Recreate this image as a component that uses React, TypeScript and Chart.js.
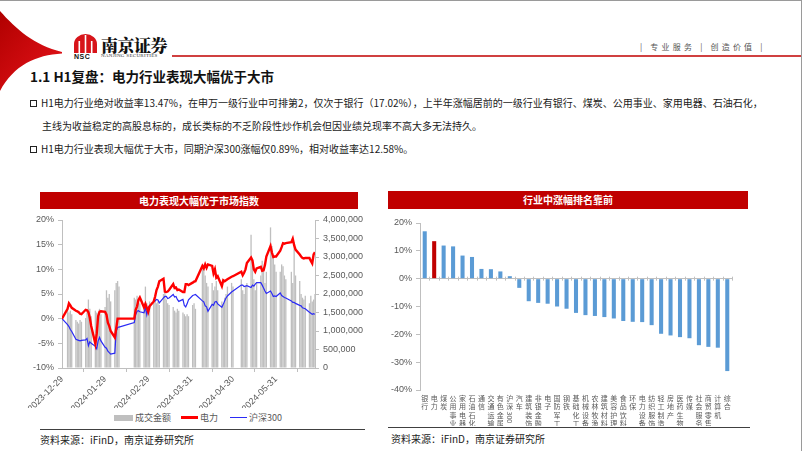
import React, { useEffect, useRef } from 'react';
import { Chart, registerables } from 'chart.js';

Chart.register(...registerables);

const FONT = "'Liberation Sans', 'Noto Sans CJK SC', sans-serif";
const CJK = "'Noto Sans CJK SC', 'Liberation Sans', sans-serif";

// ---------- left chart data ----------
const startDate = '2023-12-29';
const holidays = [
  '2024-01-01', '2024-02-09', '2024-02-12', '2024-02-13', '2024-02-14', '2024-02-15', '2024-02-16',
  '2024-04-04', '2024-04-05', '2024-05-01', '2024-05-02', '2024-05-03', '2024-06-10',
];

function buildTradeDates(): string[] {
  const res = [startDate];
  let t = Date.UTC(2024, 0, 1);
  const end = Date.UTC(2024, 5, 28);
  while (t <= end) {
    const d = new Date(t);
    const dow = d.getUTCDay();
    const s = d.toISOString().slice(0, 10);
    if (dow !== 0 && dow !== 6 && !holidays.includes(s)) res.push(s);
    t += 86400000;
  }
  return res;
}
const tradeDates = buildTradeDates();

// 电力 cumulative return (%)
const powerReturn = [
  0, 2.0, 3.1, 2.7, 2.2, 1.6, 1.5, 1.3, 1.0, 0.9,
  1.8, 1.7, 1.3, 0.2, -1.5, -5.1, -3.0, 0.5, 1.4, 1.5,
  1.4, 0.8, -0.8, -1.5, -2.5, -3.8, -2.0, 0, 0, 0,
  1.8, 2.5, 3.8, 4.3, 2.3, 3.0, 2.2, 1.4, 2.5, 3.5,
  4.5, 5.8, 6.5, 7.6, 8.1, 5.5, 5.4, 5.5, 5.8, 7.0,
  6.2, 6.3, 5.8, 5.9, 5.4, 5.4, 7.0, 7.0, 6.8, 7.3,
  7.5, 7.6, 10.7, 10.2, 11.0, 10.3, 11.0, 10.7, 9.2, 10.0,
  8.3, 8.6, 6.6, 7.8, 7.6, 7.8, 8.0, 8.5, 8.6, 9.5,
  8.8, 9.3, 10.0, 11.3, 12.4, 11.8, 10.0, 9.5, 10.2, 10.5,
  9.7, 9.8, 10.9, 12.6, 14.7, 13.4, 12.5, 12.6, 12.6, 13.8,
  14.5, 15.3, 15.2, 15.3, 15.5, 16.2, 14.9, 14.0, 13.0, 12.6,
  12.3, 12.2, 12.3, 12.3, 11.7, 11.2, 13.0, 13.47,
];

// 沪深300 cumulative return (%)
const hs300Return = [
  0, -1.2, -1.6, -2.2, -2.6, -4.2, -4.3, -4.4, -4.5, -4.4,
  -4.3, -4.0, -5.5, -4.7, -5.0, -5.6, -6.1, -4.5, -3.8, -4.5,
  -5.8, -6.0, -6.6, -6.9, -7.2, -7.0, -2.5, -1.8, -1.7, -0.8,
  0.8, 1.5, 1.6, 1.4, 1.2, 2.3, 0.8, 2.3, 2.6, 3.5,
  3.6, 3.9, 3.8, 3.2, 4.2, 4.5, 4.5, 4.1, 4.2, 4.9,
  4.4, 4.5, 3.9, 3.5, 3.9, 2.7, 2.4, 3.0, 3.8, 4.7,
  4.8, 4.9, 3.6, 3.4, 2.6, 2.4, 1.5, 2.9, 2.7, 3.4,
  3.5, 3.0, 2.3, 2.9, 3.6, 4.2, 4.6, 5.4, 5.6, 6.8,
  6.8, 6.5, 6.6, 6.7, 6.3, 6.8, 6.6, 7.0, 7.3, 7.3,
  6.8, 6.2, 5.6, 5.1, 5.6, 5.1, 4.5, 4.6, 4.5, 5.2,
  4.7, 4.5, 4.3, 4.2, 3.6, 3.3, 3.3, 3.1, 2.7, 2.6,
  2.2, 2.1, 2.0, 1.3, 1.1, 0.9, 1.0, 0.89,
];

// 成交金额
const turnover = [
  1450000, 1600000, 1500000, 1550000, 1450000, 1300000, 1250000, 1200000, 1300000, 1250000,
  1350000, 1500000, 1850000, 1600000, 1400000, 1550000, 1500000, 1450000, 1600000, 1450000,
  1650000, 2100000, 1900000, 2000000, 1800000, 2100000, 2300000, 2350000, 2200000, 1900000,
  1850000, 1950000, 1800000, 1750000, 1700000, 2200000, 1750000, 1650000, 1800000, 1850000,
  1900000, 1750000, 1800000, 1700000, 2000000, 2050000, 1850000, 1750000, 1700000, 1650000,
  1550000, 1500000, 1600000, 1550000, 1500000, 1450000, 1400000, 1450000, 1400000, 1700000,
  1750000, 1600000, 2750000, 2800000, 2500000, 2300000, 2200000, 2300000, 2100000, 2200000,
  2350000, 2100000, 1800000, 1700000, 1900000, 2000000, 2200000, 2300000, 2200000, 2400000,
  2100000, 2000000, 2200000, 2300000, 3600000, 2900000, 2400000, 2100000, 2300000, 2500000,
  2900000, 2700000, 2300000, 2600000, 3800000, 3300000, 3000000, 2800000, 2600000, 2600000,
  2800000, 2750000, 2500000, 2400000, 2600000, 2300000, 3400000, 2500000, 2350000, 2000000,
  1900000, 1850000, 1950000, 1750000, 1950000, 1800000, 1850000, 2000000,
];

const xTickDays = [0, 31, 62, 93, 123, 154];
const xTickLabels = ['2023-12-29', '2024-01-29', '2024-02-29', '2024-03-31', '2024-04-30', '2024-05-31'];

// ---------- right chart data ----------
const industries = [
  '银行', '电力', '煤炭', '公用事业', '家用电器', '石油石化', '通信', '交通运输', '有色金属', '沪深300', '汽车',
  '建筑装饰', '非银金融', '电子', '国防军工', '钢铁', '基础化工', '机械设备', '农林牧渔', '建筑材料', '美容护理',
  '食品饮料', '环保', '电力设备', '纺织服饰', '轻工制造', '房地产', '医药生物', '传媒', '社会服务', '商贸零售', '计算机', '综合',
];
const industryReturns = [
  17.02, 13.47, 11.9, 11.6, 8.3, 7.8, 3.5, 3.4, 2.6, 0.89, -3.3,
  -8.1, -8.7, -9.0, -10.0, -10.8, -12.3, -13.1, -13.4, -13.8, -14.3,
  -15.2, -15.5, -15.6, -16.7, -19.8, -20.4, -21.0, -21.4, -23.9, -24.5, -24.8, -33.2,
];

const dayOf = (s: string) => (Date.parse(s + 'T00:00:00Z') - Date.parse(startDate + 'T00:00:00Z')) / 86400000;

const AXIS = '#BFBFBF';
const TICK = '#595959';

function LeftChart() {
  const ref = useRef<HTMLCanvasElement | null>(null);
  useEffect(() => {
    if (!ref.current) return;
    const n = Math.min(tradeDates.length, powerReturn.length, hs300Return.length, turnover.length);
    const xs = tradeDates.slice(0, n).map(dayOf);
    const chart = new Chart(ref.current, {
      type: 'bar',
      data: {
        datasets: [
          {
            type: 'bar',
            label: '成交金额',
            data: xs.map((x, i) => ({ x, y: turnover[i] })),
            yAxisID: 'y1',
            backgroundColor: '#BFBFBF',
            barPercentage: 1,
            categoryPercentage: 0.95,
            order: 3,
          } as any,
          {
            type: 'line',
            label: '电力',
            data: xs.map((x, i) => ({ x, y: powerReturn[i] })),
            yAxisID: 'y',
            borderColor: '#FF0000',
            borderWidth: 2.4,
            pointRadius: 0,
            tension: 0,
            order: 1,
          } as any,
          {
            type: 'line',
            label: '沪深300',
            data: xs.map((x, i) => ({ x, y: hs300Return[i] })),
            yAxisID: 'y',
            borderColor: '#2B2BF5',
            borderWidth: 1.2,
            pointRadius: 0,
            tension: 0,
            order: 2,
          } as any,
        ],
      },
      options: {
        animation: false,
        responsive: false,
        maintainAspectRatio: false,
        layout: { padding: { top: 14, left: 0, right: 0, bottom: 0 } },
        plugins: { legend: { display: false }, tooltip: { enabled: false } },
        scales: {
          x: {
            type: 'linear',
            min: 0,
            max: 182,
            offset: false,
            grid: { drawOnChartArea: false, tickLength: 4, color: AXIS },
            border: { color: AXIS },
            afterBuildTicks: (s: any) => {
              s.ticks = xTickDays.map((v) => ({ value: v }));
            },
            afterFit: (s: any) => {
              s.height = 40;
            },
            ticks: {
              autoSkip: false,
              minRotation: 45,
              maxRotation: 45,
              padding: 2,
              color: TICK,
              font: { family: FONT, size: 9 },
              callback: (_v: any, i: number) => xTickLabels[i],
            },
          },
          y: {
            type: 'linear',
            position: 'left',
            min: -10,
            max: 20,
            grid: { drawOnChartArea: false, tickLength: 4, color: AXIS },
            border: { color: AXIS },
            afterFit: (s: any) => {
              s.width = 62;
            },
            ticks: {
              stepSize: 5,
              padding: 4,
              color: TICK,
              font: { family: FONT, size: 9 },
              callback: (v: any) => v + '%',
            },
          },
          y1: {
            type: 'linear',
            position: 'right',
            min: 0,
            max: 4000000,
            grid: { drawOnChartArea: false, tickLength: 4, color: AXIS },
            border: { color: AXIS },
            afterFit: (s: any) => {
              s.width = 55;
            },
            ticks: {
              stepSize: 500000,
              padding: 4,
              color: TICK,
              font: { family: FONT, size: 9 },
              callback: (v: any) => Number(v).toLocaleString('en-US'),
            },
          },
        },
      } as any,
    });
    return () => chart.destroy();
  }, []);
  return (
    <canvas
      ref={ref}
      width={370}
      height={202}
      style={{ position: 'absolute', left: 0, top: 205, width: 370, height: 202 }}
    />
  );
}

const industryLabelPlugin = {
  id: 'industryLabels',
  afterDraw(chart: any) {
    const { ctx, chartArea } = chart;
    const xs = chart.scales.x;
    const ys = chart.scales.y;
    const labels: string[] = chart.data.labels;
    const n = labels.length;
    // small tick marks along the zero line at category boundaries
    const y0 = ys.getPixelForValue(0);
    ctx.save();
    ctx.strokeStyle = AXIS;
    ctx.lineWidth = 1;
    const w = (chartArea.right - chartArea.left) / n;
    for (let i = 0; i <= n; i++) {
      const x = Math.round(chartArea.left + i * w) + 0.5;
      ctx.beginPath();
      ctx.moveTo(x, y0 - 2);
      ctx.lineTo(x, y0 + 2);
      ctx.stroke();
    }
    // vertical stacked category labels
    ctx.fillStyle = TICK;
    ctx.font = `7px ${CJK}`;
    const step = 8.3;
    labels.forEach((lab, i) => {
      const x = xs.getPixelForValue(i);
      let y = chartArea.bottom + 5;
      const tokens = lab.match(/[\x00-\x7F]+|[^\x00-\x7F]/g) || [];
      tokens.forEach((tk) => {
        if (/^[\x00-\x7F]+$/.test(tk)) {
          const tw = ctx.measureText(tk).width;
          ctx.save();
          ctx.translate(x, y);
          ctx.rotate(Math.PI / 2);
          ctx.textAlign = 'left';
          ctx.textBaseline = 'middle';
          ctx.fillText(tk, 0, 0);
          ctx.restore();
          y += tw + 1;
        } else {
          ctx.textAlign = 'center';
          ctx.textBaseline = 'top';
          ctx.fillText(tk, x, y);
          y += step;
        }
      });
    });
    ctx.restore();
  },
};

function RightChart() {
  const ref = useRef<HTMLCanvasElement | null>(null);
  useEffect(() => {
    if (!ref.current) return;
    const chart = new Chart(ref.current, {
      type: 'bar',
      data: {
        labels: industries,
        datasets: [
          {
            data: industryReturns,
            backgroundColor: industries.map((s) => (s === '电力' ? '#C00000' : '#5B9BD5')),
            barPercentage: 0.43,
            categoryPercentage: 1,
          },
        ],
      },
      options: {
        animation: false,
        responsive: false,
        maintainAspectRatio: false,
        layout: { padding: { top: 10, right: 18, left: 0, bottom: 0 } },
        plugins: { legend: { display: false }, tooltip: { enabled: false } },
        scales: {
          x: {
            grid: { display: false },
            border: { display: false },
            ticks: { display: false },
            afterFit: (s: any) => {
              s.height = 36;
            },
          },
          y: {
            min: -40,
            max: 20,
            grid: {
              color: (c: any) => (c.tick && c.tick.value === 0 ? AXIS : 'rgba(0,0,0,0)'),
              tickColor: AXIS,
              tickLength: 4,
            },
            border: { color: AXIS },
            afterFit: (s: any) => {
              s.width = 40;
            },
            ticks: {
              stepSize: 10,
              padding: 4,
              color: TICK,
              font: { family: FONT, size: 9 },
              callback: (v: any) => v + '%',
            },
          },
        },
      } as any,
      plugins: [industryLabelPlugin],
    });
    return () => chart.destroy();
  }, []);
  return (
    <canvas
      ref={ref}
      width={370}
      height={213}
      style={{ position: 'absolute', left: 380, top: 212, width: 370, height: 213 }}
    />
  );
}

const abs = (l: number, t: number, extra: React.CSSProperties = {}): React.CSSProperties => ({
  position: 'absolute',
  left: l,
  top: t,
  ...extra,
});

function Bullet({ top, children, indent = false }: { top: number; children: React.ReactNode; indent?: boolean }) {
  return (
    <div style={abs(30, top, { fontFamily: CJK, fontSize: 10, color: '#1a1a1a', whiteSpace: 'nowrap', lineHeight: '14px' })}>
      {indent ? (
        <span style={{ display: 'inline-block', width: 12 }} />
      ) : (
        <span
          style={{
            display: 'inline-block',
            width: 5,
            height: 5,
            border: '1.6px solid #222',
            marginRight: 4,
            verticalAlign: 'middle',
            position: 'relative',
            top: -1,
          }}
        />
      )}
      {children}
    </div>
  );
}

export default function App() {
  return (
    <div
      style={{
        position: 'absolute',
        left: 0,
        top: 0,
        width: 802,
        height: 451,
        overflow: 'hidden',
        background: '#fff',
        boxSizing: 'border-box',
        borderTop: '1px solid #9a9a9a',
        borderRight: '1px solid #9a9a9a',
      }}
    >
      <svg width={802} height={451} style={{ position: 'absolute', left: 0, top: 0 }}>
        <defs>
          <linearGradient id="sw" x1="0" y1="0" x2="1" y2="1">
            <stop offset="0" stopColor="#B00000" />
            <stop offset="1" stopColor="#E8141B" />
          </linearGradient>
        </defs>
        <path d="M0,10 C16,28 34,44 62,51 L62,52.5 C36,54 14,64 0,90 Z" fill="url(#sw)" />
        {/* logo icon */}
        <path d="M74,52 L74,43 A11.5,10 0 0 1 97,43 L97,52 Z" fill="#D7141A" />
        <rect x={78.5} y={40} width={1.6} height={12} fill="#fff" />
        <rect x={84.7} y={34} width={1.6} height={18} fill="#fff" />
        <rect x={90.9} y={40} width={1.6} height={12} fill="#fff" />
        <line x1={172} y1={55} x2={802} y2={55} stroke="#C00000" strokeWidth={1.6} />
      </svg>
      <div style={abs(74, 52, { fontFamily: FONT, fontWeight: 700, fontSize: 7, color: '#111', letterSpacing: 0.5 })}>NSC</div>
      <div style={abs(101, 31, { fontFamily: "'Noto Serif CJK SC', " + CJK, fontWeight: 900, fontSize: 17, color: '#111', letterSpacing: -0.5 })}>
        南京证券
      </div>
      <div style={abs(101, 52, { fontFamily: "'Liberation Serif', serif", fontSize: 5, color: '#333', letterSpacing: 0.3 })}>
        NANJING SECURITIES
      </div>
      <div style={abs(640, 40, { fontFamily: CJK, fontSize: 8, color: '#555', letterSpacing: 3.2, whiteSpace: 'nowrap' })}>
        | 专业服务 | 创造价值 |
      </div>

      <div style={abs(30, 65, { fontFamily: CJK, fontWeight: 700, fontSize: 13.5, color: '#111', whiteSpace: 'nowrap', lineHeight: '20px' })}>
        1.1 H1复盘：电力行业表现大幅优于大市
      </div>

      <Bullet top={95}>
        H1电力行业绝对收益率13.47%，在申万一级行业中可排第2，仅次于银行（17.02%），上半年涨幅居前的一级行业有银行、煤炭、公用事业、家用电器、石油石化，
      </Bullet>
      <Bullet top={118} indent>
        主线为收益稳定的高股息标的，成长类标的不乏阶段性炒作机会但因业绩兑现率不高大多无法持久。
      </Bullet>
      <Bullet top={141}>H1电力行业表现大幅优于大市，同期沪深300涨幅仅0.89%，相对收益率达12.58%。</Bullet>

      {/* left panel */}
      <div
        style={abs(40, 191, {
          width: 318,
          height: 17,
          background: '#C00000',
          color: '#fff',
          fontFamily: CJK,
          fontWeight: 700,
          fontSize: 10,
          lineHeight: '17px',
          textAlign: 'center',
        })}
      >
        电力表现大幅优于市场指数
      </div>
      <LeftChart />
      <div style={abs(114, 410, { fontFamily: CJK, fontSize: 9, color: TICK, whiteSpace: 'nowrap', lineHeight: '12px' })}>
        <span style={{ display: 'inline-block', width: 19, height: 6, background: '#BFBFBF', marginRight: 2, verticalAlign: 'middle' }} />
        <span style={{ verticalAlign: 'middle' }}>成交金额</span>
        <span style={{ display: 'inline-block', width: 17, height: 2.5, background: '#FF0000', margin: '0 2px 0 10px', verticalAlign: 'middle' }} />
        <span style={{ verticalAlign: 'middle' }}>电力</span>
        <span style={{ display: 'inline-block', width: 17, height: 1.5, background: '#2B2BF5', margin: '0 2px 0 12px', verticalAlign: 'middle' }} />
        <span style={{ verticalAlign: 'middle' }}>沪深300</span>
      </div>
      <div style={abs(40, 428, { width: 325, height: 0, borderTop: '1.5px solid #404040' })} />
      <div style={abs(40, 432, { fontFamily: CJK, fontSize: 10, color: '#222', whiteSpace: 'nowrap', lineHeight: '14px' })}>
        资料来源：iFinD，南京证券研究所
      </div>

      {/* right panel */}
      <div
        style={abs(388, 190, {
          width: 360,
          height: 18,
          background: '#C00000',
          color: '#fff',
          fontFamily: CJK,
          fontWeight: 700,
          fontSize: 10,
          lineHeight: '18px',
          textAlign: 'center',
        })}
      >
        行业中涨幅排名靠前
      </div>
      <RightChart />
      <div style={abs(388, 426, { width: 362, height: 0, borderTop: '1.5px solid #404040' })} />
      <div style={abs(391, 431, { fontFamily: CJK, fontSize: 10, color: '#222', whiteSpace: 'nowrap', lineHeight: '14px' })}>
        资料来源：iFinD，南京证券研究所
      </div>
    </div>
  );
}
